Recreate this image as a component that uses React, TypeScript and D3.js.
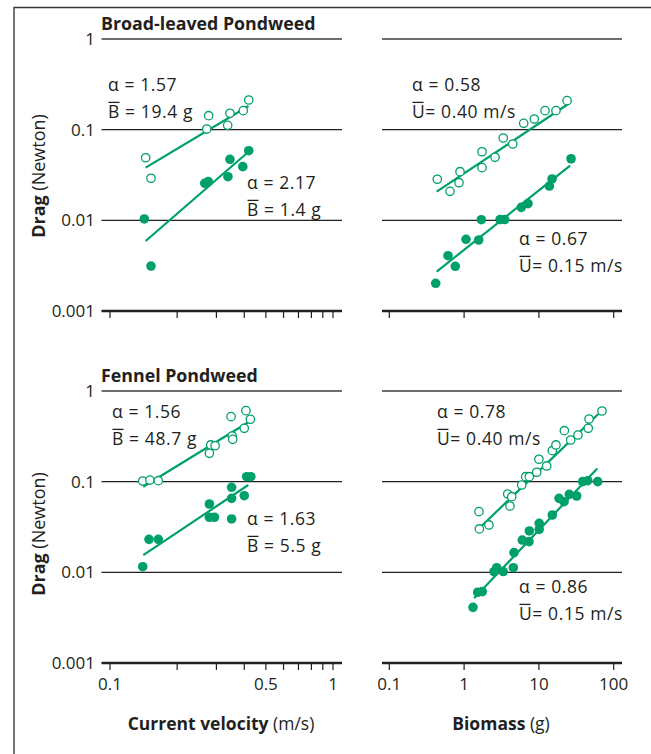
import React from 'react';
import * as d3 from 'd3';

const GREEN = '#00a06b';
const INK = '#231f20';
const FONT = '"Open Sans", "DejaVu Sans", sans-serif';

// ---------- Broad-leaved Pondweed: drag vs current velocity ----------
const blVelOpenX = [0.1445, 0.1527, 0.2715, 0.277, 0.337, 0.345, 0.396, 0.419];
const blVelOpenY = [0.049, 0.0291, 0.1016, 0.1426, 0.1117, 0.1517, 0.162, 0.2125];
const blVelFillX = [0.1425, 0.1527, 0.266, 0.276, 0.338, 0.345, 0.394, 0.419];
const blVelFillY = [0.01035, 0.00313, 0.0256, 0.0267, 0.0303, 0.0471, 0.0391, 0.0586];
const blVelOpenFitX = [0.1445, 0.418];
const blVelOpenFitY = [0.0381, 0.1824];
const blVelFillFitX = [0.1445, 0.418];
const blVelFillFitY = [0.00592, 0.0571];

// ---------- Broad-leaved Pondweed: drag vs biomass ----------
const blBioOpenX = [0.438, 0.648, 0.855, 0.882, 1.735, 1.735, 2.59, 3.34, 4.47, 6.26, 8.68, 12.07, 16.9, 23.8];
const blBioOpenY = [0.0284, 0.0209, 0.026, 0.0344, 0.0381, 0.0571, 0.0496, 0.0809, 0.0695, 0.1175, 0.131, 0.162, 0.162, 0.209];
const blBioFillX = [0.417, 0.609, 0.763, 1.06, 1.567, 1.7, 3.02, 3.49, 5.82, 7.15, 13.8, 15.0, 26.9];
const blBioFillY = [0.00202, 0.00407, 0.00311, 0.00618, 0.00607, 0.01016, 0.0102, 0.0102, 0.0139, 0.0153, 0.0239, 0.0286, 0.0478];
const blBioOpenFitX = [0.43, 26.1];
const blBioOpenFitY = [0.0207, 0.198];
const blBioFillFitX = [0.43, 26.1];
const blBioFillFitY = [0.00272, 0.0401];

// ---------- Fennel Pondweed: drag vs current velocity ----------
const fpVelOpenX = [0.1402, 0.151, 0.1647, 0.279, 0.283, 0.296, 0.349, 0.353, 0.355, 0.4, 0.407, 0.426];
const fpVelOpenY = [0.1016, 0.104, 0.1025, 0.2056, 0.254, 0.249, 0.521, 0.319, 0.293, 0.388, 0.607, 0.488];
const fpVelFillX = [0.1402, 0.1496, 0.1647, 0.279, 0.279, 0.294, 0.351, 0.351, 0.351, 0.4, 0.41, 0.428];
const fpVelFillY = [0.01153, 0.0231, 0.0231, 0.0567, 0.0405, 0.0405, 0.0867, 0.0655, 0.0388, 0.07, 0.1135, 0.1135];
const fpVelOpenFitX = [0.141, 0.417];
const fpVelOpenFitY = [0.088, 0.452];
const fpVelFillFitX = [0.141, 0.417];
const fpVelFillFitY = [0.0155, 0.0919];

// ---------- Fennel Pondweed: drag vs biomass ----------
const fpBioOpenX = [1.58, 1.6, 2.15, 3.83, 4.11, 4.33, 5.89, 6.66, 7.45, 9.35, 10.0, 12.7, 15.1, 16.9, 21.9, 26.6, 33.3, 45.7, 46.8, 69.8];
const fpBioOpenY = [0.0467, 0.0301, 0.0333, 0.0731, 0.0539, 0.0683, 0.0919, 0.1135, 0.1135, 0.127, 0.1766, 0.149, 0.2196, 0.254, 0.365, 0.288, 0.327, 0.388, 0.491, 0.602];
const fpBioFillX = [1.315, 1.52, 1.75, 2.51, 2.73, 3.34, 4.55, 4.65, 6.0, 7.38, 7.45, 10.1, 10.1, 15.1, 18.6, 21.7, 25.5, 32.0, 38.5, 44.9, 61.1];
const fpBioFillY = [0.00411, 0.00603, 0.00612, 0.01016, 0.01125, 0.0102, 0.01125, 0.0165, 0.0227, 0.0218, 0.0286, 0.0298, 0.0347, 0.0429, 0.0655, 0.0601, 0.0726, 0.0695, 0.1, 0.1025, 0.1];
const fpBioOpenFitX = [1.47, 62.3];
const fpBioOpenFitY = [0.0288, 0.557];
const fpBioFillFitX = [1.36, 60.4];
const fpBioFillFitY = [0.00517, 0.14];

// ---------- axes ----------
const yTickValues = [1, 0.1, 0.01, 0.001];
const yTickLabels = ['1', '0.1', '0.01', '0.001'];
const velTickValues = [0.1, 0.2, 0.3, 0.4, 0.5, 0.6, 0.7, 0.8, 0.9, 1];
const velLabelValues = [0.1, 0.5, 1];
const velLabelTexts = ['0.1', '0.5', '1'];
const bioTickValues = [0.1, 1, 10, 100];
const bioLabelValues = [0.1, 1, 10, 100];
const bioLabelTexts = ['0.1', '1', '10', '100'];

const panelTitles = ['Broad-leaved Pondweed', 'Fennel Pondweed'];

type Ann = { x: number; y: number; alpha: string; sym: string; rest: string };

type PanelProps = {
  xScale: d3.ScaleLogarithmic<number, number>;
  yScale: d3.ScaleLogarithmic<number, number>;
  xExtent: [number, number];
  xTicks: number[];
  xLabelValues?: number[];
  xLabelTexts?: string[];
  showYLabels: boolean;
  openX: number[]; openY: number[];
  fillX: number[]; fillY: number[];
  openFitX: number[]; openFitY: number[];
  fillFitX: number[]; fillFitY: number[];
  anns: Ann[];
};

const ANN_SIZE = 17.5;

function Panel(p: PanelProps) {
  const { xScale: xs, yScale: ys } = p;
  const [x0, x1] = p.xExtent;
  const yBottom = ys(0.001);
  const line = d3.line<[number, number]>().x(d => xs(d[0])).y(d => ys(d[1]));
  const pairs = (xa: number[], ya: number[]) => xa.map((v, i) => [v, ya[i]] as [number, number]);
  return (
    <g>
      {[0.1, 0.01].map(v => (
        <line key={v} x1={x0} x2={x1} y1={ys(v)} y2={ys(v)} stroke={INK} strokeWidth={1.1} />
      ))}
      <line x1={x0} x2={x1} y1={ys(1)} y2={ys(1)} stroke="#6d6e71" strokeWidth={2.2} />
      <line x1={x0} x2={x1} y1={yBottom} y2={yBottom} stroke={INK} strokeWidth={2.6} />
      {p.xTicks.map(v => (
        <line key={v} x1={xs(v)} x2={xs(v)} y1={yBottom} y2={yBottom + 7} stroke={INK} strokeWidth={1.2} />
      ))}
      {p.xLabelValues && p.xLabelValues.map((v, i) => (
        <text key={v} x={xs(v)} y={yBottom + 27} textAnchor="middle" fontSize={17} fill={INK} fontFamily={FONT}>
          {p.xLabelTexts![i]}
        </text>
      ))}
      {p.showYLabels && yTickValues.map((v, i) => (
        <text key={v} x={95} y={ys(v)} dy="0.36em" textAnchor="end" fontSize={17} fill={INK} fontFamily={FONT}>
          {yTickLabels[i]}
        </text>
      ))}
      <path d={line(pairs(p.openFitX, p.openFitY)) || ''} stroke={GREEN} strokeWidth={2.2} fill="none" />
      <path d={line(pairs(p.fillFitX, p.fillFitY)) || ''} stroke={GREEN} strokeWidth={2.2} fill="none" />
      {p.openX.map((v, i) => (
        <circle key={'o' + i} cx={xs(v)} cy={ys(p.openY[i])} r={4.2} fill="white" stroke={GREEN} strokeWidth={1.3} />
      ))}
      {p.fillX.map((v, i) => (
        <circle key={'f' + i} cx={xs(v)} cy={ys(p.fillY[i])} r={4.8} fill={GREEN} />
      ))}
      {p.anns.map((a, i) => (
        <g key={i} fontFamily={FONT} fontSize={ANN_SIZE} fill={INK} letterSpacing={0.6}>
          <text x={a.x} y={a.y}>{a.alpha}</text>
          <line x1={a.x + 0.5} x2={a.x + 11.5} y1={a.y + 27 - 15.6} y2={a.y + 27 - 15.6} stroke={INK} strokeWidth={1.3} />
          <text x={a.x} y={a.y + 27}>{a.sym + a.rest}</text>
        </g>
      ))}
    </g>
  );
}

export default function App() {
  const W = 651, H = 754;
  const velScale = d3.scaleLog().domain([0.1, 1]).range([110, 333]);
  const bioScale = d3.scaleLog().domain([0.1, 100]).range([389.3, 613.7]);
  const yTop = d3.scaleLog().domain([0.001, 1]).range([311, 39]);
  const yBot = d3.scaleLog().domain([0.001, 1]).range([663, 391]);
  const leftExt: [number, number] = [101.5, 342];
  const rightExt: [number, number] = [382, 622];

  return (
    <svg width={W} height={H} style={{ position: 'absolute', left: 0, top: 0, background: 'white' }}>
      <rect x={0} y={0} width={W} height={H} fill="white" />
      <path d={`M14,${H} L14,7.5 L${W},7.5`} fill="none" stroke="#3a3a3a" strokeWidth={1.4} />

      <text x={101} y={30} fontFamily={FONT} fontWeight="bold" fontSize={17.8} fill={INK}>{panelTitles[0]}</text>
      <text x={101} y={382} fontFamily={FONT} fontWeight="bold" fontSize={17.8} fill={INK}>{panelTitles[1]}</text>

      {[176, 534].map(cy => (
        <text key={cy} transform={`translate(45,${cy}) rotate(-90)`} textAnchor="middle" fontFamily={FONT} fontSize={18} fill={INK}>
          <tspan fontWeight="bold">Drag</tspan>
          <tspan> (Newton)</tspan>
        </text>
      ))}

      <Panel xScale={velScale} yScale={yTop} xExtent={leftExt} xTicks={velTickValues} showYLabels
        openX={blVelOpenX} openY={blVelOpenY} fillX={blVelFillX} fillY={blVelFillY}
        openFitX={blVelOpenFitX} openFitY={blVelOpenFitY} fillFitX={blVelFillFitX} fillFitY={blVelFillFitY}
        anns={[
          { x: 108, y: 91, alpha: 'α = 1.57', sym: 'B', rest: ' = 19.4 g' },
          { x: 247, y: 189, alpha: 'α = 2.17', sym: 'B', rest: ' = 1.4 g' },
        ]} />
      <Panel xScale={bioScale} yScale={yTop} xExtent={rightExt} xTicks={bioTickValues} showYLabels={false}
        openX={blBioOpenX} openY={blBioOpenY} fillX={blBioFillX} fillY={blBioFillY}
        openFitX={blBioOpenFitX} openFitY={blBioOpenFitY} fillFitX={blBioFillFitX} fillFitY={blBioFillFitY}
        anns={[
          { x: 412, y: 91, alpha: 'α = 0.58', sym: 'U', rest: '= 0.40 m/s' },
          { x: 519, y: 245, alpha: 'α = 0.67', sym: 'U', rest: '= 0.15 m/s' },
        ]} />
      <Panel xScale={velScale} yScale={yBot} xExtent={leftExt} xTicks={velTickValues} showYLabels
        xLabelValues={velLabelValues} xLabelTexts={velLabelTexts}
        openX={fpVelOpenX} openY={fpVelOpenY} fillX={fpVelFillX} fillY={fpVelFillY}
        openFitX={fpVelOpenFitX} openFitY={fpVelOpenFitY} fillFitX={fpVelFillFitX} fillFitY={fpVelFillFitY}
        anns={[
          { x: 112, y: 418, alpha: 'α = 1.56', sym: 'B', rest: ' = 48.7 g' },
          { x: 247, y: 525, alpha: 'α = 1.63', sym: 'B', rest: ' = 5.5 g' },
        ]} />
      <Panel xScale={bioScale} yScale={yBot} xExtent={rightExt} xTicks={bioTickValues} showYLabels={false}
        xLabelValues={bioLabelValues} xLabelTexts={bioLabelTexts}
        openX={fpBioOpenX} openY={fpBioOpenY} fillX={fpBioFillX} fillY={fpBioFillY}
        openFitX={fpBioOpenFitX} openFitY={fpBioOpenFitY} fillFitX={fpBioFillFitX} fillFitY={fpBioFillFitY}
        anns={[
          { x: 437, y: 418, alpha: 'α = 0.78', sym: 'U', rest: '= 0.40 m/s' },
          { x: 519, y: 593, alpha: 'α = 0.86', sym: 'U', rest: '= 0.15 m/s' },
        ]} />

      <text x={221} y={730} textAnchor="middle" fontFamily={FONT} fontSize={17.5} fill={INK}>
        <tspan fontWeight="bold">Current velocity</tspan>
        <tspan> (m/s)</tspan>
      </text>
      <text x={501} y={730} textAnchor="middle" fontFamily={FONT} fontSize={17.5} fill={INK}>
        <tspan fontWeight="bold">Biomass</tspan>
        <tspan> (g)</tspan>
      </text>
    </svg>
  );
}
